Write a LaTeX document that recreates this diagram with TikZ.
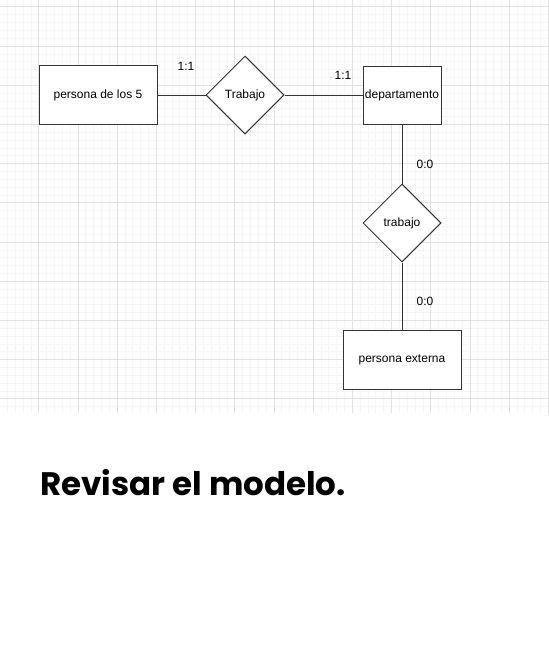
\documentclass[tikz,border=0pt]{standalone}
\usepackage{fontspec}
\setmainfont{Liberation Sans}
\newfontfamily\titlefont{Poppins}
\usetikzlibrary{shapes.geometric}
\definecolor{gridminor}{HTML}{F6F6F6}
\definecolor{gridmajor}{HTML}{E2E2E2}
\definecolor{edgecol}{HTML}{333333}
\tikzset{
  entity/.style={draw=edgecol, line width=0.75pt, fill=white, rectangle, inner sep=0pt, font=\fontsize{9}{11}\selectfont},
  relation/.style={draw=edgecol, line width=0.75pt, fill=white, diamond, aspect=1, inner sep=0pt, minimum width={78*0.75pt}, minimum height={78*0.75pt}, font=\fontsize{9}{11}\selectfont},
  link/.style={draw=edgecol, line width=0.75pt},
  card/.style={font=\fontsize{9}{11}\selectfont, inner sep=0pt},
}
\begin{document}
\begin{tikzpicture}[x=0.75pt, y=-0.75pt]
\useasboundingbox (0,0) rectangle (549,650);
\fill[white] (0,0) rectangle (549,650);
\begin{scope}
\clip (0,0) rectangle (549,413);
\foreach \i in {-5,...,70} {
  \draw[gridminor, line width=0.5pt] ({38.7+\i*7.84},0) -- ({38.7+\i*7.84},413);
}
\foreach \i in {-6,...,53} {
  \draw[gridminor, line width=0.5pt] (0,{46+\i*7.84}) -- (549,{46+\i*7.84});
}
\foreach \i in {-1,...,13} {
  \draw[gridmajor, line width=0.6pt] ({38.7+\i*39.2},0) -- ({38.7+\i*39.2},413);
}
\foreach \i in {-1,...,10} {
  \draw[gridmajor, line width=0.6pt] (0,{46+\i*39.2}) -- (549,{46+\i*39.2});
}
\end{scope}

\node[entity, minimum width={118*0.75pt}, minimum height={59*0.75pt}] (p5) at (98,95) {persona de los 5};
\node[relation] (r1) at (245,95) {Trabajo};
\node[entity, minimum width={78*0.75pt}, minimum height={58*0.75pt}] (dep) at (402,95) {departamento};
\node[relation] (r2) at (402,223) {trabajo};
\node[entity, minimum width={118*0.75pt}, minimum height={59*0.75pt}] (ext) at (402,359.5) {persona externa};

\draw[link] (p5.east) -- (r1.west);
\draw[link] (r1.east) -- (dep.west);
\draw[link] (dep.south) -- (r2.north);
\draw[link] (r2.south) -- (ext.north);

\node[card] (c1) at (186,66) {1:1};
\node[card] (c2) at (343,75) {1:1};
\node[card] (c3) at (425,164) {0:0};
\node[card] (c4) at (425,301) {0:0};

\node[anchor=base west, inner sep=0pt, font=\titlefont\bfseries\fontsize{24.4}{30}\selectfont] (title) at (40,495) {Revisar el modelo.};
\end{tikzpicture}
\end{document}
